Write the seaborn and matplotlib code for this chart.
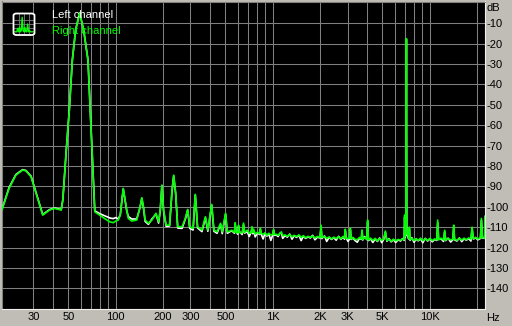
import matplotlib
matplotlib.use("Agg")
import numpy as np
import pandas as pd
import matplotlib.pyplot as plt
import seaborn as sns
from matplotlib.patches import FancyBboxPatch
from matplotlib.ticker import NullLocator

# ---------------- data ----------------
freq_low = [18.9, 21.0, 23.2, 25.6, 26.9, 29.0, 31.2, 34.4, 38.0, 40.9, 45.1, 46.2, 48.6, 50.8,
            53.1, 55.7, 59.1, 62.7, 66.8, 69.0, 70.9, 73.8, 79.4, 86.0, 92.1, 96.7, 100.5, 104.1,
            107.2, 112.0]
right_low = [-101.6, -91.0, -84.5, -82.0, -82.4, -85.3, -93.3, -104.1, -101.6, -100.8, -101.6, -96.7,
             -72.2, -52.6, -28.1, -13.4, -4.9, -13.4, -28.1, -52.6, -72.2, -102.5, -104.1, -106.0,
             -107.4, -107.8, -107.0, -106.5, -104.0, -91.0]
left_low = [-101.4, -90.6, -84.2, -81.8, -82.2, -85.0, -93.0, -103.8, -101.4, -100.6, -101.4, -96.5,
            -72.0, -52.4, -28.0, -13.3, -4.9, -13.3, -28.0, -52.4, -72.0, -102.0, -103.4, -104.5,
            -105.5, -105.8, -105.3, -106.0, -104.0, -91.2]

freq_harm = [117.8, 120.6, 126.8, 136.5, 143.4, 147.0, 150.6, 154.4, 162.0, 170.4, 181.0, 188.0,
             192.6, 197.4, 202.3, 210.0, 220.8, 229.0, 234.6, 241.6, 248.8, 265.2, 278.4, 288.0,
             296.8, 311.7, 322.0, 333.0, 355.0, 373.5, 387.0, 409.5, 423.0, 443.0, 466.0, 478.0,
             502.0, 515.0]
right_harm = [-101.6, -105.7, -107.0, -106.5, -100.0, -95.6, -100.0, -106.5, -108.1, -106.5, -103.2,
              -107.4, -101.6, -89.4, -101.6, -109.0, -109.0, -91.8, -84.5, -93.4, -109.8, -109.8,
              -105.7, -101.3, -109.8, -110.6, -93.9, -109.8, -111.4, -104.9, -111.4, -98.8, -111.4,
              -112.3, -108.1, -112.3, -103.2, -112.3]
left_harm = [-101.8, -104.8, -106.0, -106.0, -100.2, -95.8, -100.4, -107.2, -108.6, -106.0, -103.6,
             -108.0, -102.0, -89.6, -102.0, -109.6, -109.4, -92.2, -84.8, -93.8, -110.4, -110.6,
             -106.0, -101.6, -110.6, -111.4, -94.2, -110.4, -112.2, -105.4, -112.0, -99.2, -112.0,
             -113.0, -108.6, -113.2, -103.6, -113.0]

freq_noise = [530, 550, 572, 578, 585, 600, 607, 615, 640, 653, 662, 690, 710, 730, 739, 748, 757, 775,
              800, 825, 835, 846, 870, 895, 920, 945, 975, 1002, 1015, 1028, 1055, 1085, 1112, 1136,
              1160, 1200, 1240, 1285, 1330, 1370, 1420, 1470, 1520, 1570, 1620, 1680, 1740, 1800,
              1860, 1930, 2005, 2034, 2060, 2140, 2210, 2290, 2370, 2450, 2540, 2630, 2720, 2810,
              2870, 2904, 2940, 3020, 3090, 3126, 3165, 3250, 3340, 3460, 3580, 3670, 3710, 3750,
              3850, 3980, 4027, 4075, 4200, 4350, 4500, 4650, 4800, 4950, 5100, 5222, 5340, 5500,
              5680, 5880, 6080, 6300, 6520, 6720, 6880, 6930, 6980, 7060, 7106, 7150, 7250, 7350,
              7425, 7500, 7700, 7950, 8200, 8450, 8750, 9050, 9370, 9700, 10040, 10390, 10750,
              11100, 11245, 11400, 11800, 12250, 12460, 12650, 13100, 13600, 14050, 14220, 14400,
              14900, 15450, 16000, 16550, 17100, 17700, 18300, 18620, 18950, 19600, 20300, 21050,
              21350, 21650, 22100, 22390, 22500]
right_noise = [-112.0, -111.5, -112.6, -107.8, -112.5, -112.8, -109.0, -112.6, -112.8, -108.0, -112.5,
               -111.5, -113.0, -112.8, -109.8, -112.6, -111.0, -113.4, -112.5, -113.2, -110.3, -113.1,
               -113.5, -112.8, -114.0, -113.0, -113.8, -113.6, -111.0, -113.6, -113.5, -114.0, -113.2,
               -112.3, -114.2, -113.8, -114.5, -113.6, -114.8, -114.0, -114.6, -113.8, -115.0, -114.2,
               -115.2, -114.5, -115.0, -114.3, -115.3, -114.6, -115.0, -109.0, -115.2, -114.5, -115.5,
               -114.8, -115.8, -114.9, -115.6, -114.7, -115.8, -114.5, -115.4, -111.0, -115.5, -115.6,
               -115.4, -110.5, -115.8, -115.0, -116.0, -116.2, -115.0, -115.8, -111.4, -116.0, -115.0,
               -115.9, -106.5, -116.3, -115.4, -116.5, -115.5, -116.8, -115.6, -116.4, -115.8, -111.9,
               -116.6, -115.8, -116.9, -115.9, -116.7, -116.0, -116.4, -115.8, -116.2, -104.0, -114.5,
               -113.0, -17.5, -113.0, -113.5, -115.5, -110.0, -116.2, -115.5, -116.6, -115.6, -116.5,
               -115.4, -116.7, -115.7, -116.5, -115.5, -116.6, -115.8, -116.2, -106.5, -116.2, -115.4,
               -116.3, -111.5, -116.4, -115.6, -116.2, -116.0, -109.0, -115.8, -116.5, -115.5, -116.3,
               -115.4, -116.2, -115.3, -115.8, -110.0, -115.6, -115.0, -115.8, -115.2, -105.7, -115.2,
               -115.0, -115.5, -104.5]
left_noise = [-112.4, -111.8, -113.0, -108.5, -112.0, -113.5, -109.5, -112.2, -113.6, -108.8, -112.9,
              -112.3, -114.6, -112.5, -110.5, -113.2, -111.6, -114.8, -112.8, -113.6, -111.0, -113.4,
              -115.8, -113.0, -114.4, -113.3, -116.5, -113.8, -111.5, -114.0, -113.9, -114.6, -113.0,
              -112.8, -115.5, -114.1, -114.9, -113.4, -115.9, -114.2, -115.0, -114.0, -116.6, -114.4,
              -115.5, -114.8, -115.3, -114.0, -116.2, -114.9, -115.3, -110.0, -115.6, -114.3, -117.0,
              -115.0, -116.0, -115.2, -116.4, -114.5, -116.0, -114.8, -115.9, -111.8, -115.2, -117.0,
              -115.8, -111.3, -116.0, -115.3, -116.5, -117.4, -115.3, -116.0, -112.0, -116.3, -114.6,
              -116.1, -107.5, -116.6, -115.7, -117.5, -115.8, -117.0, -115.3, -117.6, -116.0, -112.5,
              -116.9, -115.6, -117.2, -116.2, -117.5, -116.2, -116.8, -115.6, -116.5, -105.0, -115.0,
              -113.5, -17.8, -113.5, -114.5, -115.8, -110.8, -116.5, -115.2, -117.4, -115.9, -116.7,
              -115.8, -117.6, -115.5, -116.8, -115.8, -117.2, -116.0, -116.5, -107.8, -116.0, -115.7,
              -117.0, -112.2, -116.6, -115.4, -117.3, -116.2, -110.0, -116.2, -116.8, -115.3, -117.1,
              -115.7, -116.4, -115.6, -116.8, -110.6, -115.8, -115.3, -116.2, -115.5, -106.5, -115.4,
              -115.3, -115.5, -105.0]

channels = ["Left channel", "Right channel"]
grid_freqs = [30, 40, 50, 60, 70, 80, 90, 100, 200, 300, 400, 500, 600, 700, 800, 900,
              1000, 2000, 3000, 4000, 5000, 6000, 7000, 8000, 9000, 10000, 20000]
grid_labels = ["30", "", "50", "", "", "", "", "100", "200", "300", "", "500", "", "", "", "",
               "1K", "2K", "3K", "", "5K", "", "", "", "", "10K", ""]
db_ticks = [-10, -20, -30, -40, -50, -60, -70, -80, -90, -100, -110, -120, -130, -140]
db_labels = ["-10", "-20", "-30", "-40", "-50", "-60", "-70", "-80", "-90", "-100", "-110",
             "-120", "-130", "-140"]

# legend icon mini spectrum
icon_x = [0, 2, 3, 4, 5, 6, 7, 8, 9, 10, 11, 12, 13, 14, 15, 16, 17, 18, 20]
icon_y = [1, 1, 4, 1, 5, 1, 2, 14, 2, 1, 5, 1, 1, 8, 1, 2, 1, 1, 1]

# ---------------- build frame ----------------
freq_all = freq_low + freq_harm + freq_noise
right_all = right_low + right_harm + right_noise
left_all = left_low + left_harm + left_noise
df = pd.DataFrame({
    "freq": freq_all + freq_all,
    "db": left_all + right_all,
    "channel": [channels[0]] * len(freq_all) + [channels[1]] * len(freq_all),
})

sns.set_theme(style="dark")
plt.rcParams['font.family'] = ['Liberation Sans', 'DejaVu Sans']

BG = '#c0bdb6'
GRID = '#808080'
W, H = 512, 326
fig = plt.figure(figsize=(W / 100, H / 100), dpi=100, facecolor=BG)

ax_l, ax_r, ax_t, ax_b = 1.5, 485.0, 1.5, 308.7
ax = fig.add_axes([ax_l / W, 1 - ax_b / H, (ax_r - ax_l) / W, (ax_b - ax_t) / H])
ax.set_facecolor('black')

sns.lineplot(data=df, x="freq", y="db", hue="channel", hue_order=channels,
             palette={channels[0]: "white", channels[1]: "#00ff00"},
             estimator=None, sort=False, linewidth=1.2, legend=False, ax=ax, zorder=3)

ax.set_xscale('log')
ax.set_xlim(18.8, 22500)
ax.set_ylim(-150, 0.7)
ax.set_xticks(grid_freqs)
ax.set_xticklabels(grid_labels)
ax.xaxis.set_minor_locator(NullLocator())
ax.set_yticks(db_ticks)
ax.set_yticklabels(db_labels)
ax.yaxis.tick_right()
ax.tick_params(axis='x', length=0, pad=2.5, labelsize=8, labelcolor='black')
ax.tick_params(axis='y', length=0, pad=1.2, labelsize=8, labelcolor='black')
for lab in ax.get_yticklabels():
    lab.set_horizontalalignment('left')
ax.grid(True, which='major', color=GRID, linewidth=0.75, linestyle='-')
ax.set_axisbelow(True)
ax.set_xlabel("")
ax.set_ylabel("")
for side in ('left', 'top'):
    ax.spines[side].set_color(GRID)
    ax.spines[side].set_linewidth(0.8)
for side in ('right', 'bottom'):
    ax.spines[side].set_color('#f0f0f0')
    ax.spines[side].set_linewidth(0.8)

# axis unit labels
fig.text(486.5 / W, 1 - 8 / H, "dB", fontsize=8, color='black', ha='left', va='center')
fig.text(486.5 / W, 1 - 318 / H, "Hz", fontsize=8, color='black', ha='left', va='center')

# legend texts
fig.text(52 / W, 1 - 15 / H, channels[0], fontsize=8, color='white', ha='left', va='center')
fig.text(52 / W, 1 - 31 / H, channels[1], fontsize=8, color='#00ff00', ha='left', va='center')

# legend icon
iax = fig.add_axes([14 / W, 1 - 34 / H, 20 / W, 20 / H])
iax.set_facecolor('black')
iax.plot(icon_x, icon_y, color='#00ff00', linewidth=1.0)
iax.set_xlim(-1, 21)
iax.set_ylim(-1, 17)
iax.set_xticks([5, 10, 15])
iax.set_yticks([4, 8, 12])
iax.tick_params(length=0, labelbottom=False, labelleft=False)
iax.grid(True, color=GRID, linewidth=0.6)
iax.set_axisbelow(True)
for s in iax.spines.values():
    s.set_visible(False)
box = FancyBboxPatch((13.5 / W, 1 - 35 / H), 21 / W, 21.5 / H,
                     boxstyle="round,pad=0,rounding_size=0.006",
                     transform=fig.transFigure, facecolor='none', edgecolor='white',
                     linewidth=1.3, zorder=10)
fig.patches.append(box)

fig.savefig("out.png", dpi=100, facecolor=BG)
